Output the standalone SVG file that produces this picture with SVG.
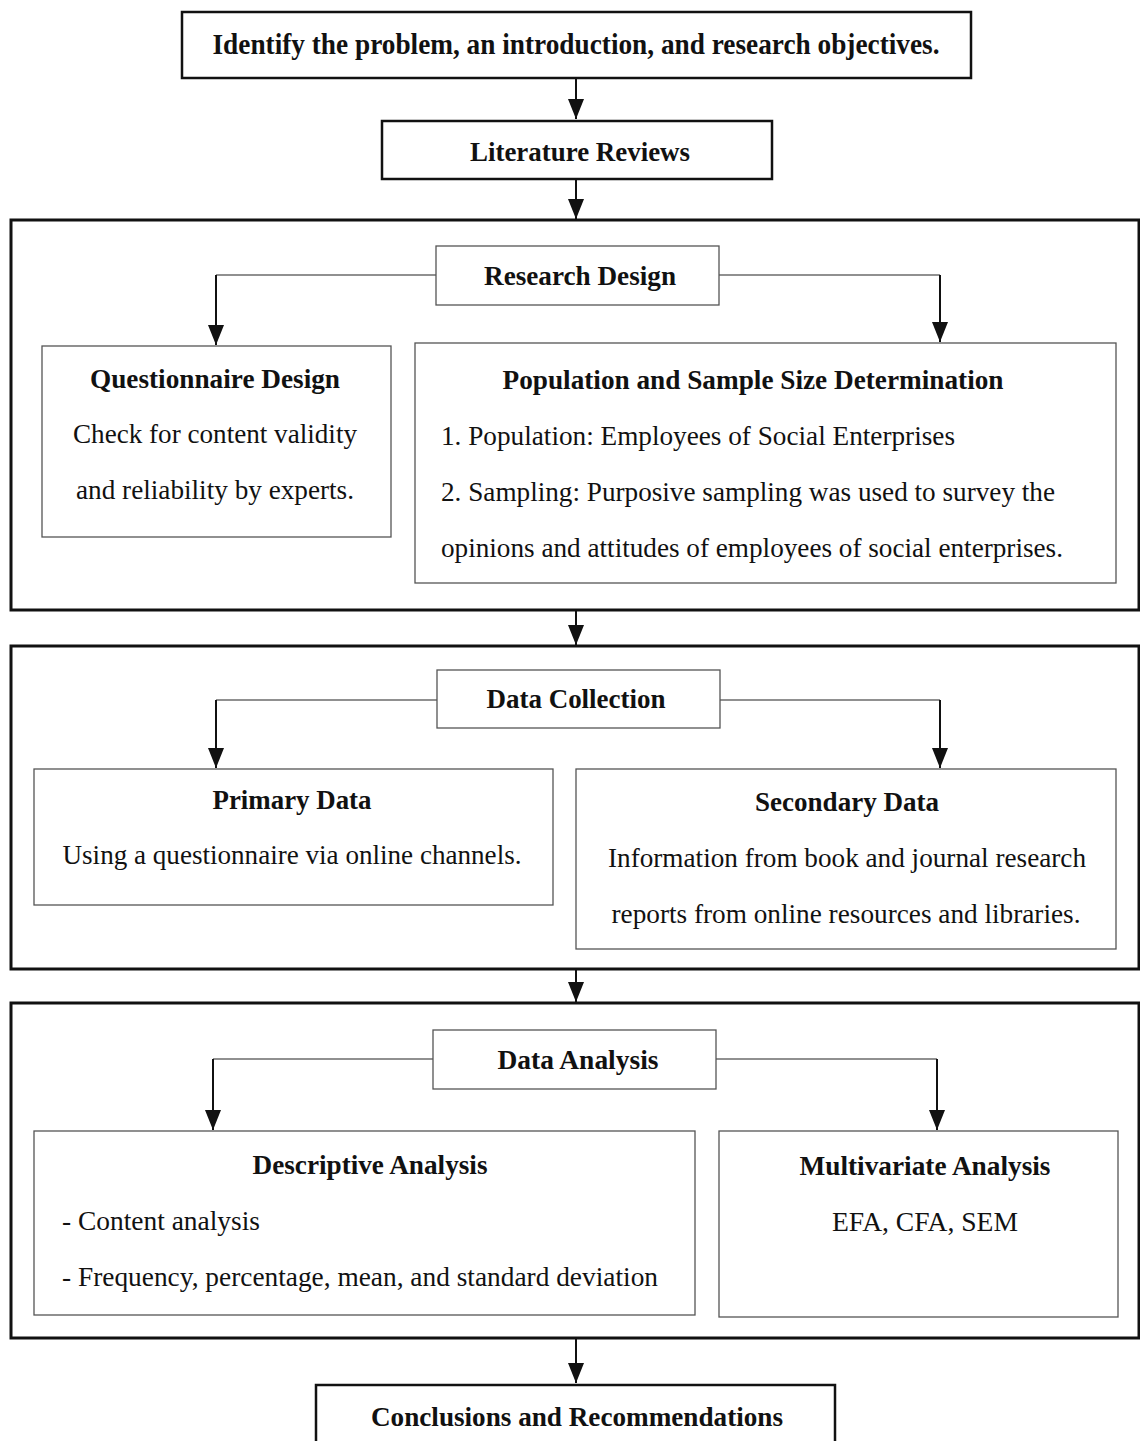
<svg xmlns="http://www.w3.org/2000/svg" width="1140" height="1441" viewBox="0 0 1140 1441" font-family="'Liberation Serif', 'Times New Roman', serif">
<style>
text{font-family:'Liberation Serif','Times New Roman',serif;fill:#111;font-size:27px}
.b{font-weight:bold}
.c{text-anchor:middle}
.t1{font-size:29px}
.t2{font-size:27px}
.thick{fill:#fff;stroke:#111;stroke-width:2.5}
.frame{fill:none;stroke:#111;stroke-width:3}
.thin{fill:#fff;stroke:#555;stroke-width:1.3}
.ln{fill:none;stroke:#111;stroke-width:2}
.h{fill:none;stroke:#222;stroke-width:1.2}
</style>
<defs>
<marker id="ad" markerUnits="userSpaceOnUse" markerWidth="20" markerHeight="16" refX="20" refY="8" orient="auto" viewBox="0 0 20 16">
<polygon points="0,0 20,8 0,16" fill="#111"/>
</marker>
</defs>

<g id="frames">
<rect class="frame" x="11" y="220" width="1128" height="390"/>
<rect class="frame" x="11" y="646" width="1128" height="323"/>
<rect class="frame" x="11" y="1003" width="1128" height="335"/>
</g>

<g id="connectors">
<line class="ln" x1="576" y1="79" x2="576" y2="119" marker-end="url(#ad)"/>
<line class="ln" x1="576" y1="180" x2="576" y2="219" marker-end="url(#ad)"/>
<line class="ln" x1="576" y1="611" x2="576" y2="645" marker-end="url(#ad)"/>
<line class="ln" x1="576" y1="970" x2="576" y2="1002" marker-end="url(#ad)"/>
<line class="ln" x1="576" y1="1339" x2="576" y2="1383" marker-end="url(#ad)"/>

<polyline class="h" points="436,275 216,275"/>
<line class="ln" x1="216" y1="275" x2="216" y2="345" marker-end="url(#ad)"/>
<polyline class="h" points="719,275 940,275"/>
<line class="ln" x1="940" y1="275" x2="940" y2="342" marker-end="url(#ad)"/>

<polyline class="h" points="437,700 216,700"/>
<line class="ln" x1="216" y1="700" x2="216" y2="768" marker-end="url(#ad)"/>
<polyline class="h" points="720,700 940,700"/>
<line class="ln" x1="940" y1="700" x2="940" y2="768" marker-end="url(#ad)"/>

<polyline class="h" points="433,1059 213,1059"/>
<line class="ln" x1="213" y1="1059" x2="213" y2="1130" marker-end="url(#ad)"/>
<polyline class="h" points="716,1059 937,1059"/>
<line class="ln" x1="937" y1="1059" x2="937" y2="1130" marker-end="url(#ad)"/>
</g>

<g id="identify">
<rect class="thick" x="182" y="12" width="789" height="66"/>
<text class="b c t1" x="576" y="54" textLength="727" lengthAdjust="spacingAndGlyphs">Identify the problem, an introduction, and research objectives.</text>
</g>

<g id="literature">
<rect class="thick" x="382" y="121" width="390" height="58"/>
<text class="b c t2" x="580" y="161" textLength="220" lengthAdjust="spacingAndGlyphs">Literature Reviews</text>
</g>

<g id="research-design">
<rect class="thin" x="436" y="246" width="283" height="59"/>
<text class="b c" x="580" y="285" textLength="192" lengthAdjust="spacingAndGlyphs">Research Design</text>
</g>

<g id="questionnaire">
<rect class="thin" x="42" y="346" width="349" height="191"/>
<text class="b c" x="215" y="388" textLength="250" lengthAdjust="spacingAndGlyphs">Questionnaire Design</text>
<text class="c" x="215" y="443" textLength="284" lengthAdjust="spacingAndGlyphs">Check for content validity</text>
<text class="c" x="215" y="499" textLength="278" lengthAdjust="spacingAndGlyphs">and reliability by experts.</text>
</g>

<g id="population">
<rect class="thin" x="415" y="343" width="701" height="240"/>
<text class="b c" x="753" y="389" textLength="501" lengthAdjust="spacingAndGlyphs">Population and Sample Size Determination</text>
<text x="441" y="445" textLength="514" lengthAdjust="spacingAndGlyphs">1. Population: Employees of Social Enterprises</text>
<text x="441" y="501" textLength="614" lengthAdjust="spacingAndGlyphs">2. Sampling: Purposive sampling was used to survey the</text>
<text x="441" y="557" textLength="622" lengthAdjust="spacingAndGlyphs">opinions and attitudes of employees of social enterprises.</text>
</g>

<g id="data-collection">
<rect class="thin" x="437" y="670" width="283" height="58"/>
<text class="b c" x="576" y="708" textLength="179" lengthAdjust="spacingAndGlyphs">Data Collection</text>
</g>

<g id="primary">
<rect class="thin" x="34" y="769" width="519" height="136"/>
<text class="b c" x="292" y="809" textLength="159" lengthAdjust="spacingAndGlyphs">Primary Data</text>
<text class="c" x="292" y="864" textLength="459" lengthAdjust="spacingAndGlyphs">Using a questionnaire via online channels.</text>
</g>

<g id="secondary">
<rect class="thin" x="576" y="769" width="540" height="180"/>
<text class="b c" x="847" y="811" textLength="184" lengthAdjust="spacingAndGlyphs">Secondary Data</text>
<text class="c" x="847" y="867" textLength="478" lengthAdjust="spacingAndGlyphs">Information from book and journal research</text>
<text class="c" x="846" y="923" textLength="469" lengthAdjust="spacingAndGlyphs">reports from online resources and libraries.</text>
</g>

<g id="data-analysis">
<rect class="thin" x="433" y="1030" width="283" height="59"/>
<text class="b c" x="578" y="1069" textLength="161" lengthAdjust="spacingAndGlyphs">Data Analysis</text>
</g>

<g id="descriptive">
<rect class="thin" x="34" y="1131" width="661" height="184"/>
<text class="b c" x="370" y="1174" textLength="235" lengthAdjust="spacingAndGlyphs">Descriptive Analysis</text>
<text x="62" y="1230" textLength="198" lengthAdjust="spacingAndGlyphs">- Content analysis</text>
<text x="62" y="1286" textLength="596" lengthAdjust="spacingAndGlyphs">- Frequency, percentage, mean, and standard deviation</text>
</g>

<g id="multivariate">
<rect class="thin" x="719" y="1131" width="399" height="186"/>
<text class="b c" x="925" y="1175" textLength="251" lengthAdjust="spacingAndGlyphs">Multivariate Analysis</text>
<text class="c" x="925" y="1231" textLength="186" lengthAdjust="spacingAndGlyphs">EFA, CFA, SEM</text>
</g>

<g id="conclusions">
<rect class="thick" x="316" y="1385" width="519" height="70"/>
<text class="b c t2" x="577" y="1426" textLength="412" lengthAdjust="spacingAndGlyphs">Conclusions and Recommendations</text>
</g>
</svg>
